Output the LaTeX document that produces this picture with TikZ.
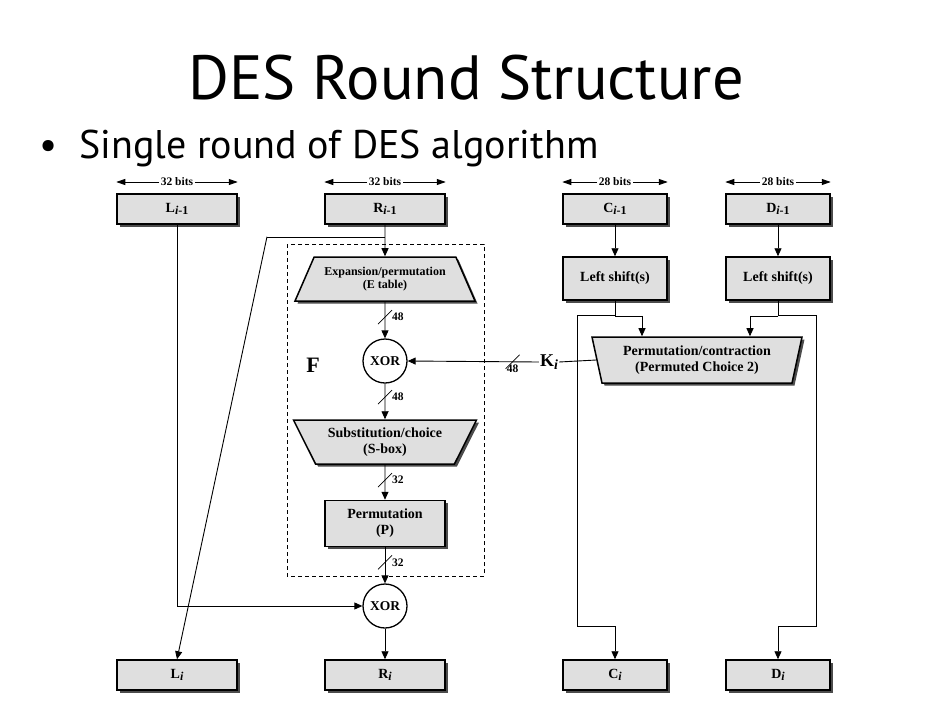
\documentclass[tikz,border=0pt]{standalone}
\usepackage{fontspec}
\setmainfont{Liberation Serif}
\newfontfamily\slidefont{PT Sans}
\usetikzlibrary{arrows.meta,shapes.geometric,shadows,positioning}

\newcommand{\lowsub}[2][12]{\raisebox{-2.5pt}{\fontsize{#1}{#1}\selectfont #2}}

\tikzset{
  arr/.style={-{Triangle[length=8pt,width=7pt]}, line width=0.9pt},
  bitarr/.style={-{Triangle[length=9pt,width=6pt]}, line width=0.9pt},
  shade/.style={drop shadow={shadow xshift=2.5pt, shadow yshift=-2.5pt, fill=black!70, opacity=1}},
  box/.style={draw, line width=1.5pt, fill=gray!25, shade, minimum width=120pt, minimum height=30pt,
    inner sep=2pt, align=center, font=\bfseries\fontsize{14}{16}\selectfont},
  trap/.style={trapezium, draw, line width=1.5pt, fill=gray!25, shade, trapezium stretches body,
    inner sep=2pt, align=center, font=\bfseries\fontsize{14}{16}\selectfont},
  xorc/.style={circle, draw, line width=1.3pt, fill=white, minimum size=44pt, inner sep=0pt,
    font=\bfseries\fontsize{13.5}{15}\selectfont},
  bits/.style={inner sep=1.5pt, font=\bfseries\fontsize{11.5}{12}\selectfont},
  num/.style={inner sep=0pt, font=\bfseries\fontsize{11.5}{12}\selectfont},
  fbox/.style={line width=1pt, dash pattern=on 4pt off 3pt}
}

\begin{document}
\begin{tikzpicture}[x=1pt, y=-1pt]
  \useasboundingbox (0,0) rectangle (934,704);
  % slide heading
  \node[anchor=base, inner sep=0pt, font=\slidefont\fontsize{62.5}{68}\selectfont] (title) at (466,99) {DES Round Structure};
  \node[anchor=base, inner sep=0pt, font=\slidefont\fontsize{40}{44}\selectfont] (dot) at (49,158) {•};
  \node[anchor=base west, inner sep=0pt, font=\slidefont\fontsize{40}{44}\selectfont] (sub title) at (79,158) {Single round of DES algorithm};

  % input halves and key halves
  \node[box] (lp) at (177,209) {L\lowsub{\textit{i}-1}};
  \node[box] (rp) at (385,209) {R\lowsub{\textit{i}-1}};
  \node[box, minimum width=104pt] (cp) at (615,209) {C\lowsub{\textit{i}-1}};
  \node[box, minimum width=104pt] (dp) at (778,209) {D\lowsub{\textit{i}-1}};
  \node[bits] (lb) at (177,182) {32 bits};
  \node[bits] (rb) at (385,182) {32 bits};
  \node[bits] (cb) at (615,182) {28 bits};
  \node[bits] (db) at (778,182) {28 bits};
  \foreach \b/\n in {lb/lp, rb/rp, cb/cp, db/dp} {
    \draw[bitarr] (\b.west) -- (\n.west |- \b.west);
    \draw[bitarr] (\b.east) -- (\n.east |- \b.east);
  }

  % function F
  \draw[fbox] (287,244) rectangle (484,576);
  \node[font=\bfseries\fontsize{22}{24}\selectfont] (f) at (313,365) {F};
  \node[trap, trapezium left angle=56, trapezium right angle=56, minimum width=180pt, minimum height=44pt,
    font=\bfseries\fontsize{12}{13.5}\selectfont] (exp) at (385,279) {Expansion/permutation\\(E table)};
  \node[xorc] (xor1) at (385,361) {XOR};
  \node[trap, trapezium left angle=124, trapezium right angle=124, minimum width=183pt, minimum height=44pt]
    (sub) at (385,442) {Substitution/choice\\(S-box)};
  \node[box, minimum height=46pt] (perm) at (385,523.5) {Permutation\\(P)};
  \node[xorc] (xor2) at (385,606) {XOR};

  % key schedule
  \node[box, minimum width=104pt, minimum height=43pt] (cs) at (615,278.5) {Left shift(s)};
  \node[box, minimum width=104pt, minimum height=43pt] (ds) at (778,278.5) {Left shift(s)};
  \node[trap, trapezium left angle=107, trapezium right angle=107, minimum width=210pt, minimum height=46pt]
    (pc) at (697,360) {Permutation/contraction\\(Permuted Choice 2)};
  \node[inner sep=1pt, font=\bfseries\fontsize{18}{20}\selectfont] (ki) at (549,362) {K\lowsub[14]{\textit{i}}};

  % outputs
  \node[box] (li) at (177,675) {L\lowsub{\textit{i}}};
  \node[box] (ri) at (385,675) {R\lowsub{\textit{i}}};
  \node[box, minimum width=104pt] (ci) at (615,675) {C\lowsub{\textit{i}}};
  \node[box, minimum width=104pt] (di) at (778,675) {D\lowsub{\textit{i}}};

  % data path
  \draw[arr] (lp.south) |- (xor2.west);
  \draw[arr] (rp.south) -- (exp.north);
  \draw (rp.south) ++(0,12) coordinate (tap) -- ++(-118,0) coordinate (bend);
  \draw[arr] (bend) -- (li.north);
  \draw[arr] (exp.south) -- coordinate[pos=.42] (w1) (xor1.north);
  \draw[arr] (xor1.south) -- coordinate[pos=.38] (w2) (sub.north);
  \draw[arr] (sub.south) -- coordinate[pos=.44] (w3) (perm.north);
  \draw[arr] (perm.south) -- coordinate[pos=.42] (w4) (xor2.north);
  \draw[arr] (xor2.south) -- (ri.north);
  \foreach \w/\v in {w1/48, w2/48, w3/32, w4/32} {
    \draw[line width=0.7pt] (\w) +(-7,7) -- +(7,-7);
    \node[num, right=7pt of \w] {\v};
  }

  % key path
  \draw[arr] (cp.south) -- (cs.north);
  \draw[arr] (dp.south) -- (ds.north);
  \draw (cs.south) -- ++(0,15) coordinate (cj);
  \draw (cj) -- ++(27,0) coordinate (cr);
  \draw[arr] (cr) -- (cr |- pc.north);
  \draw[arr] (cj) -| ++(-38,311) -| (ci.north);
  \draw (ds.south) -- ++(0,15) coordinate (dj);
  \draw (dj) -- ++(-28,0) coordinate (dl);
  \draw[arr] (dl) -- (dl |- pc.north);
  \draw[arr] (dj) -| ++(38,311) -| (di.north);
  \draw[line width=0.9pt] (pc.west) -- (ki.east);
  \draw[arr] (ki.west) -- coordinate[pos=.2] (w5) (xor1.east);
  \draw[line width=0.7pt] (w5) +(-7,7) -- +(7,-7);
  \node[num, below=3pt of w5] {48};
\end{tikzpicture}
\end{document}
